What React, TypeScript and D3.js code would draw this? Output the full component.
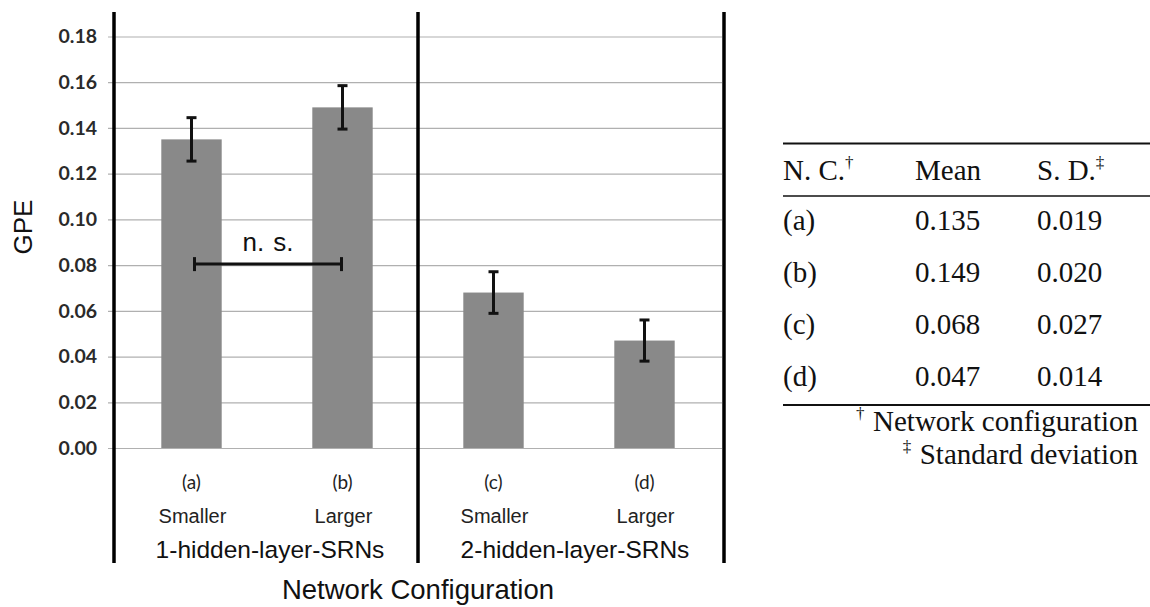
import React, { useEffect, useRef } from 'react';
import * as d3 from 'd3';

const categories = ['(a)', '(b)', '(c)', '(d)'];
const sizes = ['Smaller', 'Larger', 'Smaller', 'Larger'];
const groups = ['1-hidden-layer-SRNs', '2-hidden-layer-SRNs'];
const means = [0.135, 0.149, 0.068, 0.047];
const errHalf = [0.0095, 0.0095, 0.0091, 0.009];
const yTicks = [0, 0.02, 0.04, 0.06, 0.08, 0.1, 0.12, 0.14, 0.16, 0.18];
const nsLevel = 0.08;

const tableLabels = ['(a)', '(b)', '(c)', '(d)'];
const tableMeans = ['0.135', '0.149', '0.068', '0.047'];
const tableSDs = ['0.019', '0.020', '0.027', '0.014'];

function App() {
    const svgRef = useRef(null);

    useEffect(() => {
        const svg = d3.select(svgRef.current);
        svg.selectAll('*').remove();

        const sans = 'Arial, "Liberation Sans", sans-serif';
        const calib = 'Lato, "Open Sans", sans-serif';
        const serif = '"Times New Roman", "Liberation Serif", serif';

        const x = d3.scaleBand().domain(categories).range([116, 720]).paddingInner(0.6).paddingOuter(0.3);
        const y = d3.scaleLinear().domain([0, 0.18]).range([448, 36.5]);
        const bw = x.bandwidth();
        const cx = (c) => x(c) + bw / 2;

        // gridlines + tick labels
        const axis = svg.append('g')
            .attr('transform', 'translate(108,0)')
            .call(d3.axisLeft(y).tickValues(yTicks).tickFormat(d3.format('.2f')).tickSize(-614).tickPadding(11));
        axis.select('.domain').remove();
        axis.selectAll('line').attr('stroke', '#b0b0b0').attr('stroke-width', 1.2);
        axis.selectAll('text')
            .attr('font-family', calib)
            .attr('font-size', 19.5)
            .attr('font-weight', 700)
            .attr('fill', '#2a2a2a');

        // bars
        svg.append('g').selectAll('rect')
            .data(means)
            .enter()
            .append('rect')
            .attr('x', (d, i) => x(categories[i]))
            .attr('y', d => y(d))
            .attr('width', bw)
            .attr('height', d => y(0) - y(d))
            .attr('fill', '#898989');

        // error bars
        const eb = svg.append('g').attr('stroke', '#111').attr('stroke-width', 3);
        means.forEach((m, i) => {
            const c = cx(categories[i]);
            eb.append('line').attr('x1', c).attr('x2', c).attr('y1', y(m + errHalf[i])).attr('y2', y(m - errHalf[i]));
            eb.append('line').attr('x1', c - 5).attr('x2', c + 5).attr('y1', y(m + errHalf[i])).attr('y2', y(m + errHalf[i]));
            eb.append('line').attr('x1', c - 5).attr('x2', c + 5).attr('y1', y(m - errHalf[i])).attr('y2', y(m - errHalf[i]));
        });

        // n.s. bracket
        const x1 = cx(categories[0]) + 3;
        const x2 = cx(categories[1]) - 1;
        const ny = y(nsLevel) - 1;
        const ns = svg.append('g').attr('stroke', '#111').attr('stroke-width', 3);
        ns.append('line').attr('x1', x1).attr('x2', x2).attr('y1', ny).attr('y2', ny);
        ns.append('line').attr('x1', x1).attr('x2', x1).attr('y1', ny - 7).attr('y2', ny + 7);
        ns.append('line').attr('x1', x2).attr('x2', x2).attr('y1', ny - 7).attr('y2', ny + 7);
        svg.append('text')
            .attr('x', (x1 + x2) / 2)
            .attr('y', ny - 13)
            .attr('text-anchor', 'middle')
            .attr('font-family', sans)
            .attr('font-size', 26)
            .attr('word-spacing', 2)
            .attr('fill', '#111')
            .text('n. s.');

        // group separators
        const step = x.step();
        const seps = [x(categories[0]) - step * 0.3 - 2, x(categories[2]) - step * 0.3, x(categories[3]) + bw + step * 0.3 + 4];
        svg.append('g').selectAll('line')
            .data(seps)
            .enter()
            .append('line')
            .attr('x1', d => d).attr('x2', d => d)
            .attr('y1', 12).attr('y2', 563)
            .attr('stroke', '#000')
            .attr('stroke-width', 3.5);

        // category labels
        categories.forEach((c, i) => {
            svg.append('text')
                .attr('x', cx(c))
                .attr('y', 489)
                .attr('text-anchor', 'middle')
                .attr('font-family', calib)
                .attr('font-size', 19)
                .attr('fill', '#222')
                .text(c);
            svg.append('text')
                .attr('x', cx(c) + 1)
                .attr('y', 523)
                .attr('text-anchor', 'middle')
                .attr('font-family', sans)
                .attr('font-size', 20)
                .attr('fill', '#222')
                .text(sizes[i]);
        });
        groups.forEach((g, i) => {
            svg.append('text')
                .attr('x', (seps[i] + seps[i + 1]) / 2 + 4)
                .attr('y', 558)
                .attr('text-anchor', 'middle')
                .attr('font-family', sans)
                .attr('font-size', 24.5)
                .attr('fill', '#111')
                .text(g);
        });

        svg.append('text')
            .attr('x', seps[1])
            .attr('y', 599)
            .attr('text-anchor', 'middle')
            .attr('font-family', sans)
            .attr('font-size', 27.5)
            .attr('fill', '#111')
            .text('Network Configuration');

        svg.append('text')
            .attr('transform', 'translate(32,227) rotate(-90)')
            .attr('text-anchor', 'middle')
            .attr('font-family', sans)
            .attr('font-size', 26)
            .attr('fill', '#111')
            .text('GPE');

        // table
        const tb = svg.append('g').attr('font-family', serif).attr('font-size', 29).attr('fill', '#111');
        const colX = [783, 915, 1037];
        const rule = (yy, w) => tb.append('line').attr('x1', 783).attr('x2', 1150).attr('y1', yy).attr('y2', yy).attr('stroke', '#111').attr('stroke-width', w);
        rule(143.5, 2.2);
        rule(196, 1.6);
        rule(405, 2.2);

        const h1 = tb.append('text').attr('x', colX[0]).attr('y', 180);
        h1.append('tspan').text('N. C.');
        h1.append('tspan').attr('font-size', 17).attr('dy', -12).text('†');
        tb.append('text').attr('x', colX[1]).attr('y', 180).text('Mean');
        const h3 = tb.append('text').attr('x', colX[2]).attr('y', 180);
        h3.append('tspan').text('S. D.');
        h3.append('tspan').attr('font-size', 17).attr('dy', -12).text('‡');

        const rowY = d3.scalePoint().domain(tableLabels).range([230, 386]);
        tableLabels.forEach((l, i) => {
            tb.append('text').attr('x', colX[0]).attr('y', rowY(l)).text(l);
            tb.append('text').attr('x', colX[1]).attr('y', rowY(l)).text(tableMeans[i]);
            tb.append('text').attr('x', colX[2]).attr('y', rowY(l)).text(tableSDs[i]);
        });

        const notes = [['†', 'Network configuration', 431], ['‡', 'Standard deviation', 464]];
        notes.forEach(([mark, txt, yy]) => {
            const t = tb.append('text').attr('x', 1138).attr('y', yy).attr('text-anchor', 'end');
            t.append('tspan').attr('font-size', 17).attr('dy', -12).text(mark + '\u00a0\u00a0');
            t.append('tspan').attr('dy', 12).text(txt);
        });
    }, []);

    return (
        <svg ref={svgRef} width={1150} height={607}
            style={{ position: 'absolute', left: 0, top: 0, background: '#fff' }}></svg>
    );
}

export default App;
